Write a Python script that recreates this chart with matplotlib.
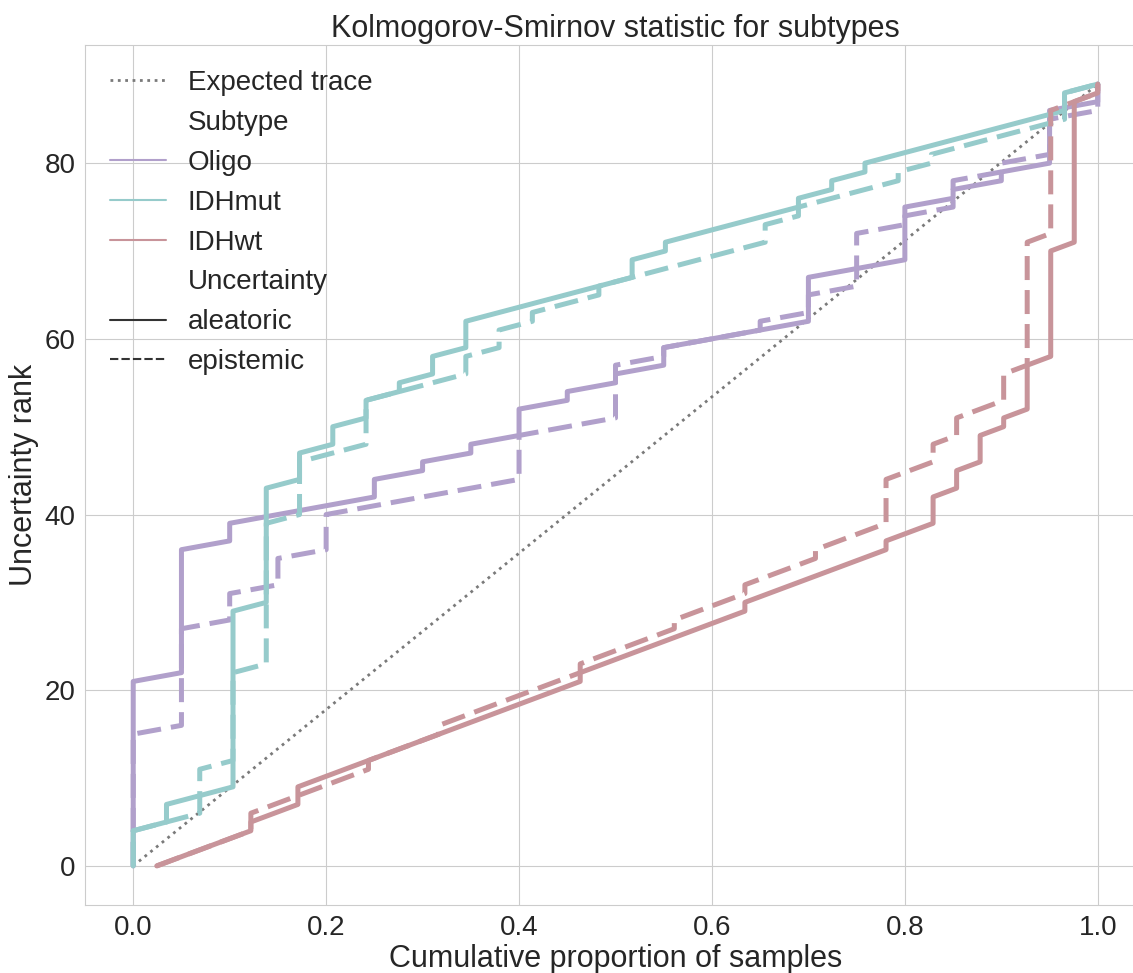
import numpy as np
import matplotlib
matplotlib.use("Agg")
import matplotlib.pyplot as plt
import seaborn as sns
from matplotlib.lines import Line2D

sns.set_style("whitegrid")
plt.rcParams['font.family'] = ['Liberation Sans', 'DejaVu Sans']

# uncertainty ranks (0..89) of the samples in each subtype
n_ranks = 90
subtypes = ["Oligo", "IDHmut", "IDHwt"]
colors = ["#b1a0cb", "#96cbcb", "#c8949a"]

oligo_aleatoric = [22, 37, 40, 41, 42, 45, 47, 49, 53, 55, 57, 60, 61, 62, 68, 69, 76, 78, 80, 87]
idhmut_aleatoric = [5, 8, 9, 30, 44, 48, 51, 54, 56, 59, 63, 64, 65, 66, 67, 70, 72, 73, 74, 75,
                    77, 79, 81, 82, 83, 84, 85, 86, 89]
idhwt_aleatoric = [0, 1, 2, 3, 4, 6, 7, 10, 11, 12, 13, 14, 15, 16, 17, 18, 19, 20, 21, 23, 24,
                   25, 26, 27, 28, 29, 31, 32, 33, 34, 35, 36, 38, 39, 43, 46, 50, 52, 58, 71, 88]

oligo_epistemic = [16, 28, 32, 36, 41, 42, 43, 44, 50, 51, 58, 60, 61, 63, 66, 73, 75, 79, 81, 86]
idhmut_epistemic = [5, 6, 12, 23, 40, 47, 48, 54, 55, 56, 59, 62, 64, 65, 67, 68, 69, 70, 71, 74,
                    76, 77, 78, 80, 82, 83, 84, 85, 89]
idhwt_epistemic = [0, 1, 2, 3, 4, 7, 8, 9, 10, 11, 13, 14, 15, 17, 18, 19, 20, 21, 22, 24, 25,
                   26, 27, 29, 30, 31, 33, 34, 35, 37, 38, 39, 45, 46, 49, 52, 53, 57, 72, 87, 88]

aleatoric = [oligo_aleatoric, idhmut_aleatoric, idhwt_aleatoric]
epistemic = [oligo_epistemic, idhmut_epistemic, idhwt_epistemic]

dash_style = (0, (4.8, 2.0))


def cumulative_trace(ranks):
    # proportion of the subtype's samples at or below each rank
    ranks = np.sort(np.array(ranks))
    rank_axis = np.arange(n_ranks)
    prop = np.searchsorted(ranks, rank_axis, side="right") / len(ranks)
    return prop, rank_axis


fig = plt.figure(figsize=(11.33, 9.73), dpi=100)
# the axes run a little past the right edge of the figure
ax = fig.add_axes([85 / 1133, 68 / 973, 1061 / 1133, 860 / 973])

ax.plot([0, 1], [0, n_ranks - 1], color="#7a7a7a", lw=2, linestyle=":")

for i in range(len(subtypes)):
    x, y = cumulative_trace(aleatoric[i])
    ax.plot(x, y, color=colors[i], lw=3.6)
    x, y = cumulative_trace(epistemic[i])
    ax.plot(x, y, color=colors[i], lw=3.6, linestyle=dash_style)

ax.set_xticks([0.0, 0.2, 0.4, 0.6, 0.8, 1.0])
ax.set_yticks([0, 20, 40, 60, 80])
ax.tick_params(labelsize=20)
ax.set_xlabel("Cumulative proportion of samples", fontsize=22, labelpad=2)
ax.set_ylabel("Uncertainty rank", fontsize=22)
ax.set_title("Kolmogorov-Smirnov statistic for subtypes", fontsize=22)

handles = [Line2D([], [], color="#7a7a7a", lw=2, linestyle=":"),
           Line2D([], [], color="none")]
labels = ["Expected trace", "Subtype"]
for i in range(len(subtypes)):
    handles.append(Line2D([], [], color=colors[i], lw=1.5))
    labels.append(subtypes[i])
handles += [Line2D([], [], color="none"),
            Line2D([], [], color=".2", lw=1.5),
            Line2D([], [], color=".2", lw=1.5, linestyle=(0, (4, 1.5)))]
labels += ["Uncertainty", "aleatoric", "epistemic"]
ax.legend(handles, labels, loc="upper left", frameon=False, fontsize=20, handlelength=2.0)

fig.savefig("out.png", dpi=100)
